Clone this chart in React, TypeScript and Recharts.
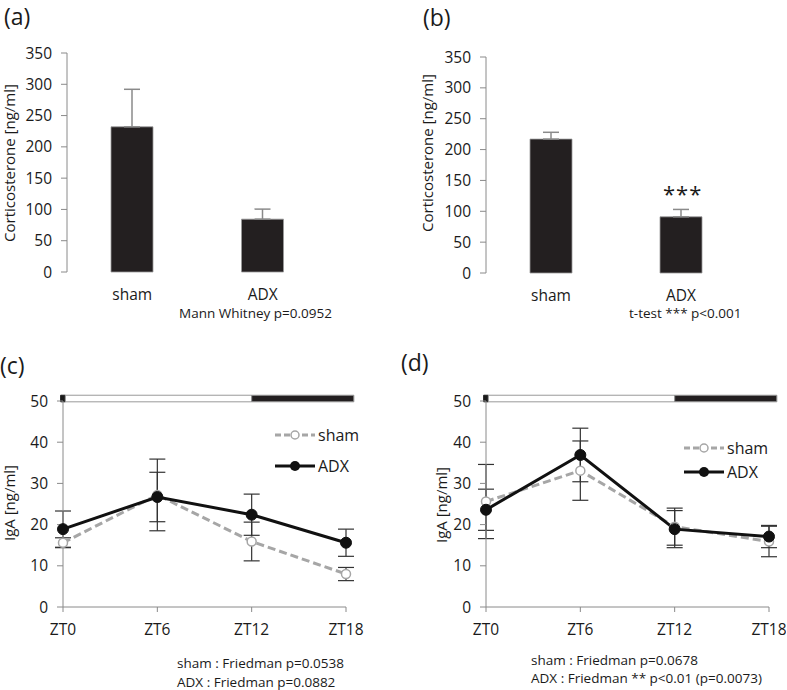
import React from 'react';
import {
  BarChart,
  Bar,
  LineChart,
  Line,
  XAxis,
  YAxis,
  ErrorBar,
  ReferenceArea,
} from 'recharts';

// corticosterone panels (a) and (b)
const groups = ['sham', 'ADX'];
const corticoA = [232, 84.5];
const corticoAErr = [60, 16];
const corticoB = [217, 91];
const corticoBErr = [11, 12];

// IgA time course panels (c) and (d)
const ztHours = [0, 6, 12, 18];
const shamC = [15.6, 27.2, 15.9, 8.0];
const shamCErr = [1.2, 8.7, 4.7, 1.6];
const adxC = [18.9, 26.7, 22.4, 15.6];
const adxCErr = [4.4, 6.0, 5.0, 3.3];
const shamD = [25.6, 33.1, 19.5, 15.9];
const shamDErr = [9.0, 7.2, 4.5, 3.7];
const adxD = [23.6, 36.9, 18.9, 17.1];
const adxDErr = [5.0, 6.5, 4.5, 2.7];

const corticoTicks = [0, 50, 100, 150, 200, 250, 300, 350];
const igaTicks = [0, 10, 20, 30, 40, 50];

const FONT = "'Open Sans', 'Noto Sans', sans-serif";
const AXIS = '#8a8a8a';
const BAR = '#231f20';
const SHAM = '#a6a6a6';
const INK = '#1a1a1a';
const tickStyle = { fontSize: 15.5, fill: INK, fontFamily: FONT };

const barRows = (vals: number[], errs: number[]) =>
  groups.map((g, i) => ({ group: g, value: vals[i], err: [0, errs[i]] }));

const lineRows = (sham: number[], shamErr: number[], adx: number[], adxErr: number[]) =>
  ztHours.map((h, i) => ({ zt: h, sham: sham[i], shamErr: shamErr[i], adx: adx[i], adxErr: adxErr[i] }));

type BarPanelProps = {
  vals: number[];
  errs: number[];
  margin: { top: number; right: number; bottom: number; left: number };
  yWidth: number;
};

const BarPanel = ({ vals, errs, margin, yWidth }: BarPanelProps) => (
  <BarChart width={393} height={320} data={barRows(vals, errs)} margin={margin}>
    {/* edge axis only gives the Excel-style ticks between categories */}
    <XAxis
      xAxisId="edge"
      type="number"
      domain={[0, 2]}
      ticks={[0, 1, 2]}
      tick={false}
      height={0}
      stroke={AXIS}
      tickSize={5}
      allowDataOverflow
    />
    <XAxis
      dataKey="group"
      axisLine={false}
      tickLine={false}
      tick={tickStyle}
      tickMargin={11}
      height={30}
    />
    <YAxis
      domain={[0, 350]}
      ticks={corticoTicks}
      width={yWidth}
      stroke={AXIS}
      tick={tickStyle}
      tickMargin={9}
      interval={0}
    />
    <Bar dataKey="value" fill={BAR} stroke="#9a9a9a" strokeWidth={0.8} barSize={42} isAnimationActive={false}>
      <ErrorBar dataKey="err" width={8} stroke={AXIS} strokeWidth={1.5} direction="y" />
    </Bar>
  </BarChart>
);

type LinePanelProps = {
  rows: ReturnType<typeof lineRows>;
  margin: { top: number; right: number; bottom: number; left: number };
  yWidth: number;
};

const LegendBox = ({ left, top, gap }: { left: number; top: number; gap: number }) => (
  <div style={{ position: 'absolute', left, top, fontFamily: FONT, fontSize: 16, color: INK }}>
    <div style={{ display: 'flex', alignItems: 'center', height: gap }}>
      <svg width={42} height={12}>
        <line x1={0} y1={6} x2={40} y2={6} stroke={SHAM} strokeWidth={3} strokeDasharray="6 3" />
        <circle cx={20} cy={6} r={4} fill="#fff" stroke={SHAM} strokeWidth={1.5} />
      </svg>
      <span style={{ marginLeft: 1 }}>sham</span>
    </div>
    <div style={{ display: 'flex', alignItems: 'center', height: gap }}>
      <svg width={42} height={12}>
        <line x1={0} y1={6} x2={40} y2={6} stroke="#111" strokeWidth={3} />
        <circle cx={20} cy={6} r={5} fill="#111" />
      </svg>
      <span style={{ marginLeft: 1 }}>ADX</span>
    </div>
  </div>
);

const LinePanel = ({ rows, margin, yWidth }: LinePanelProps) => (
  <LineChart width={393} height={370} data={rows} margin={margin}>
    <XAxis
      dataKey="zt"
      type="number"
      domain={[0, 18]}
      ticks={ztHours}
      tickFormatter={(v) => `ZT${v}`}
      stroke={AXIS}
      tick={tickStyle}
      tickSize={5}
      tickMargin={12}
      height={30}
      interval={0}
    />
    <YAxis
      domain={[0, 50]}
      ticks={igaTicks}
      width={yWidth}
      stroke={AXIS}
      tick={tickStyle}
      tickMargin={9}
      interval={0}
    />
    {/* light / dark bar */}
    <ReferenceArea x1={-0.15} x2={0.15} y1={49.8} y2={51.4} fill="#1a1a1a" fillOpacity={1} stroke="#1a1a1a" ifOverflow="visible" />
    <ReferenceArea x1={0.15} x2={12} y1={49.8} y2={51.4} fill="#fff" fillOpacity={1} stroke="#999" ifOverflow="visible" />
    <ReferenceArea x1={12} x2={18.5} y1={49.8} y2={51.4} fill="#231f20" fillOpacity={1} stroke="#999" ifOverflow="visible" />
    <Line
      dataKey="sham"
      stroke={SHAM}
      strokeWidth={3}
      strokeDasharray="8 4"
      dot={{ r: 4.5, fill: '#fff', stroke: SHAM, strokeWidth: 1.5, strokeDasharray: '0' }}
      isAnimationActive={false}
    >
      <ErrorBar dataKey="shamErr" width={8} stroke="#333" strokeWidth={1.2} direction="y" />
    </Line>
    <Line
      dataKey="adx"
      stroke="#111"
      strokeWidth={3}
      dot={{ r: 5.5, fill: '#111', stroke: '#111', strokeWidth: 1 }}
      isAnimationActive={false}
    >
      <ErrorBar dataKey="adxErr" width={8} stroke="#333" strokeWidth={1.2} direction="y" />
    </Line>
  </LineChart>
);

const text = (s: React.CSSProperties): React.CSSProperties => ({
  position: 'absolute',
  fontFamily: FONT,
  color: INK,
  whiteSpace: 'nowrap',
  ...s,
});

const yLabel = (label: string, cx: number, cy: number, size = 15) => (
  <div
    style={text({
      left: cx,
      top: cy,
      fontSize: size,
      transform: 'translate(-50%, -50%) rotate(-90deg)',
      lineHeight: 1,
    })}
  >
    {label}
  </div>
);

export default function App() {
  return (
    <div style={{ position: 'absolute', left: 0, top: 0, width: 787, height: 690, background: '#fff', fontFamily: FONT }}>
      <div style={{ position: 'absolute', left: 0, top: 0 }}>
        <BarPanel vals={corticoA} errs={corticoAErr} yWidth={67} margin={{ top: 53, right: 65, bottom: 18, left: 0 }} />
      </div>
      <div style={{ position: 'absolute', left: 393, top: 0 }}>
        <BarPanel vals={corticoB} errs={corticoBErr} yWidth={93} margin={{ top: 57, right: 40, bottom: 17, left: 0 }} />
      </div>
      <div style={{ position: 'absolute', left: 0, top: 320 }}>
        <LinePanel
          rows={lineRows(shamC, shamCErr, adxC, adxCErr)}
          yWidth={63}
          margin={{ top: 81, right: 47, bottom: 53, left: 0 }}
        />
      </div>
      <div style={{ position: 'absolute', left: 393, top: 320 }}>
        <LinePanel
          rows={lineRows(shamD, shamDErr, adxD, adxDErr)}
          yWidth={93}
          margin={{ top: 81, right: 17, bottom: 53, left: 0 }}
        />
      </div>

      <LegendBox left={275} top={419} gap={31} />
      <LegendBox left={684} top={436} gap={24} />

      {/* panel letters */}
      <div style={text({ left: 4, top: 0, fontSize: 23 })}>(a)</div>
      <div style={text({ left: 423, top: 1, fontSize: 23 })}>(b)</div>
      <div style={text({ left: 0, top: 349, fontSize: 23 })}>(c)</div>
      <div style={text({ left: 401, top: 346, fontSize: 23 })}>(d)</div>

      {/* axis titles */}
      {yLabel('Corticosterone [ng/ml]', 9, 163)}
      {yLabel('Corticosterone [ng/ml]', 427, 153)}
      {yLabel('IgA [ng/ml]', 9, 503)}
      {yLabel('IgA [ng/ml]', 441, 505)}

      {/* stats notes */}
      <div style={text({ left: 179, top: 304, fontSize: 13.5 })}>Mann Whitney p=0.0952</div>
      <div style={text({ left: 629, top: 304, fontSize: 13.5 })}>t-test *** p&lt;0.001</div>
      <div style={text({ left: 663, top: 178, fontSize: 22, letterSpacing: 1 })}>***</div>
      <div style={text({ left: 177, top: 654, fontSize: 13.5 })}>sham : Friedman p=0.0538</div>
      <div style={text({ left: 177, top: 673, fontSize: 13.5 })}>ADX : Friedman p=0.0882</div>
      <div style={text({ left: 531, top: 651, fontSize: 13.5 })}>sham : Friedman p=0.0678</div>
      <div style={text({ left: 531, top: 669, fontSize: 13.5 })}>ADX : Friedman ** p&lt;0.01 (p=0.0073)</div>
    </div>
  );
}
